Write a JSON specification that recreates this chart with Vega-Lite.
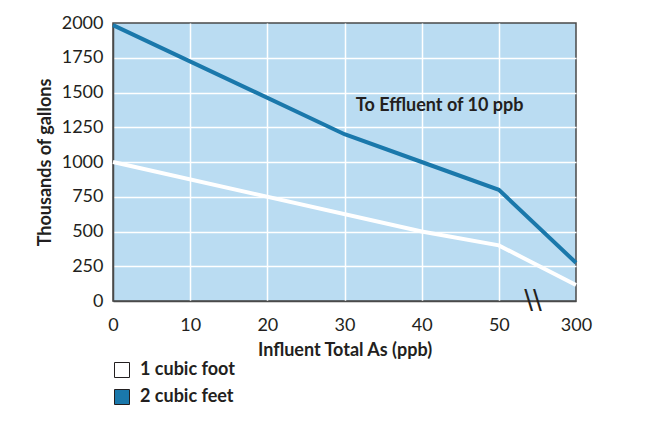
{
  "$schema": "https://vega.github.io/schema/vega-lite/v6.json",
  "width": 463,
  "height": 278,
  "autosize": {"type": "none"},
  "padding": {"left": 113, "top": 23, "right": 76, "bottom": 121},
  "background": "white",
  "config": {
    "font": "Lato",
    "view": {"fill": "#badcf2", "stroke": "#4a4a4a", "strokeWidth": 1.5},
    "axis": {
      "labelFont": "Lato",
      "labelFontSize": 18,
      "labelColor": "#231f20",
      "labelOverlap": false,
      "titleFont": "Lato",
      "titleFontSize": 18,
      "titleFontWeight": "bold",
      "titleColor": "#231f20",
      "ticks": false,
      "grid": true,
      "gridColor": "#ffffff",
      "gridWidth": 1.5,
      "domainColor": "#4a4a4a",
      "domainWidth": 1.5
    }
  },
  "datasets": {
    "series": [
      {"influent": 0, "gallons": 1000, "media": "1 cubic foot"},
      {"influent": 40, "gallons": 500, "media": "1 cubic foot"},
      {"influent": 50, "gallons": 400, "media": "1 cubic foot"},
      {"influent": 300, "gallons": 115, "media": "1 cubic foot"},
      {"influent": 0, "gallons": 1985, "media": "2 cubic feet"},
      {"influent": 30, "gallons": 1200, "media": "2 cubic feet"},
      {"influent": 40, "gallons": 1000, "media": "2 cubic feet"},
      {"influent": 50, "gallons": 800, "media": "2 cubic feet"},
      {"influent": 300, "gallons": 275, "media": "2 cubic feet"}
    ],
    "notes": [
      {"influent": 40, "gallons": 1400, "label": "To Effluent of 10 ppb"}
    ],
    "breaks": [
      {"influent": 300, "gallons": 0, "label": "\\\\"}
    ]
  },
  "encoding": {
    "x": {
      "field": "influent",
      "type": "ordinal",
      "sort": null,
      "scale": {"type": "point", "domain": [0, 10, 20, 30, 40, 50, 300], "padding": 0},
      "axis": {
        "title": "Influent Total As (ppb)",
        "labelAngle": 0,
        "labelPadding": 15,
        "titlePadding": 7,
        "gridOpacity": {"condition": {"test": "datum.value == 0 || datum.value == 300", "value": 0}, "value": 1}
      }
    },
    "y": {
      "field": "gallons",
      "type": "quantitative",
      "scale": {"domain": [0, 2000], "nice": false},
      "axis": {
        "title": "Thousands of gallons",
        "values": [0, 250, 500, 750, 1000, 1250, 1500, 1750, 2000],
        "format": "d",
        "labelOverlap": false,
        "labelPadding": 10,
        "titlePadding": 7,
        "gridOpacity": {"condition": {"test": "datum.value == 0 || datum.value == 2000", "value": 0}, "value": 1}
      }
    }
  },
  "layer": [
    {
      "data": {"name": "series"},
      "mark": {"type": "line", "strokeWidth": 4, "strokeJoin": "miter"},
      "encoding": {
        "stroke": {
          "field": "media",
          "type": "nominal",
          "scale": {"range": ["#ffffff", "#1a78ab"]},
          "legend": null
        }
      }
    },
    {
      "data": {"name": "series"},
      "mark": {"type": "square", "size": 0, "filled": true, "strokeWidth": 0},
      "encoding": {
        "fill": {
          "field": "media",
          "type": "nominal",
          "scale": {"domain": ["1 cubic foot", "2 cubic feet"], "range": ["#ffffff", "#1a78ab"]},
          "legend": {
            "title": null,
            "orient": "none",
            "legendX": 0,
            "legendY": 338,
            "symbolType": "square",
            "symbolSize": 225,
            "symbolStrokeColor": "#231f20",
            "symbolStrokeWidth": 1,
            "symbolOpacity": 1,
            "labelFont": "Lato",
            "labelFontSize": 18,
            "labelFontWeight": "bold",
            "labelColor": "#231f20",
            "labelOffset": 9,
            "rowPadding": 7,
            "encode": {
              "symbols": {
                "update": {
                  "size": {"value": 225},
                  "stroke": {"value": "#231f20"},
                  "strokeWidth": {"value": 1},
                  "opacity": {"value": 1},
                  "fillOpacity": {"value": 1}
                }
              }
            }
          }
        }
      }
    },
    {
      "data": {"name": "notes"},
      "mark": {"type": "text", "font": "Lato", "fontSize": 18, "fontWeight": "bold", "color": "#231f20", "align": "center", "baseline": "middle", "dx": 18},
      "encoding": {
        "text": {"field": "label"}
      }
    },
    {
      "data": {"name": "breaks"},
      "mark": {"type": "text", "font": "DejaVu Sans", "fontSize": 26, "color": "#231f20", "align": "center", "baseline": "middle", "dx": -43, "clip": false},
      "encoding": {
        "text": {"field": "label"}
      }
    }
  ]
}
